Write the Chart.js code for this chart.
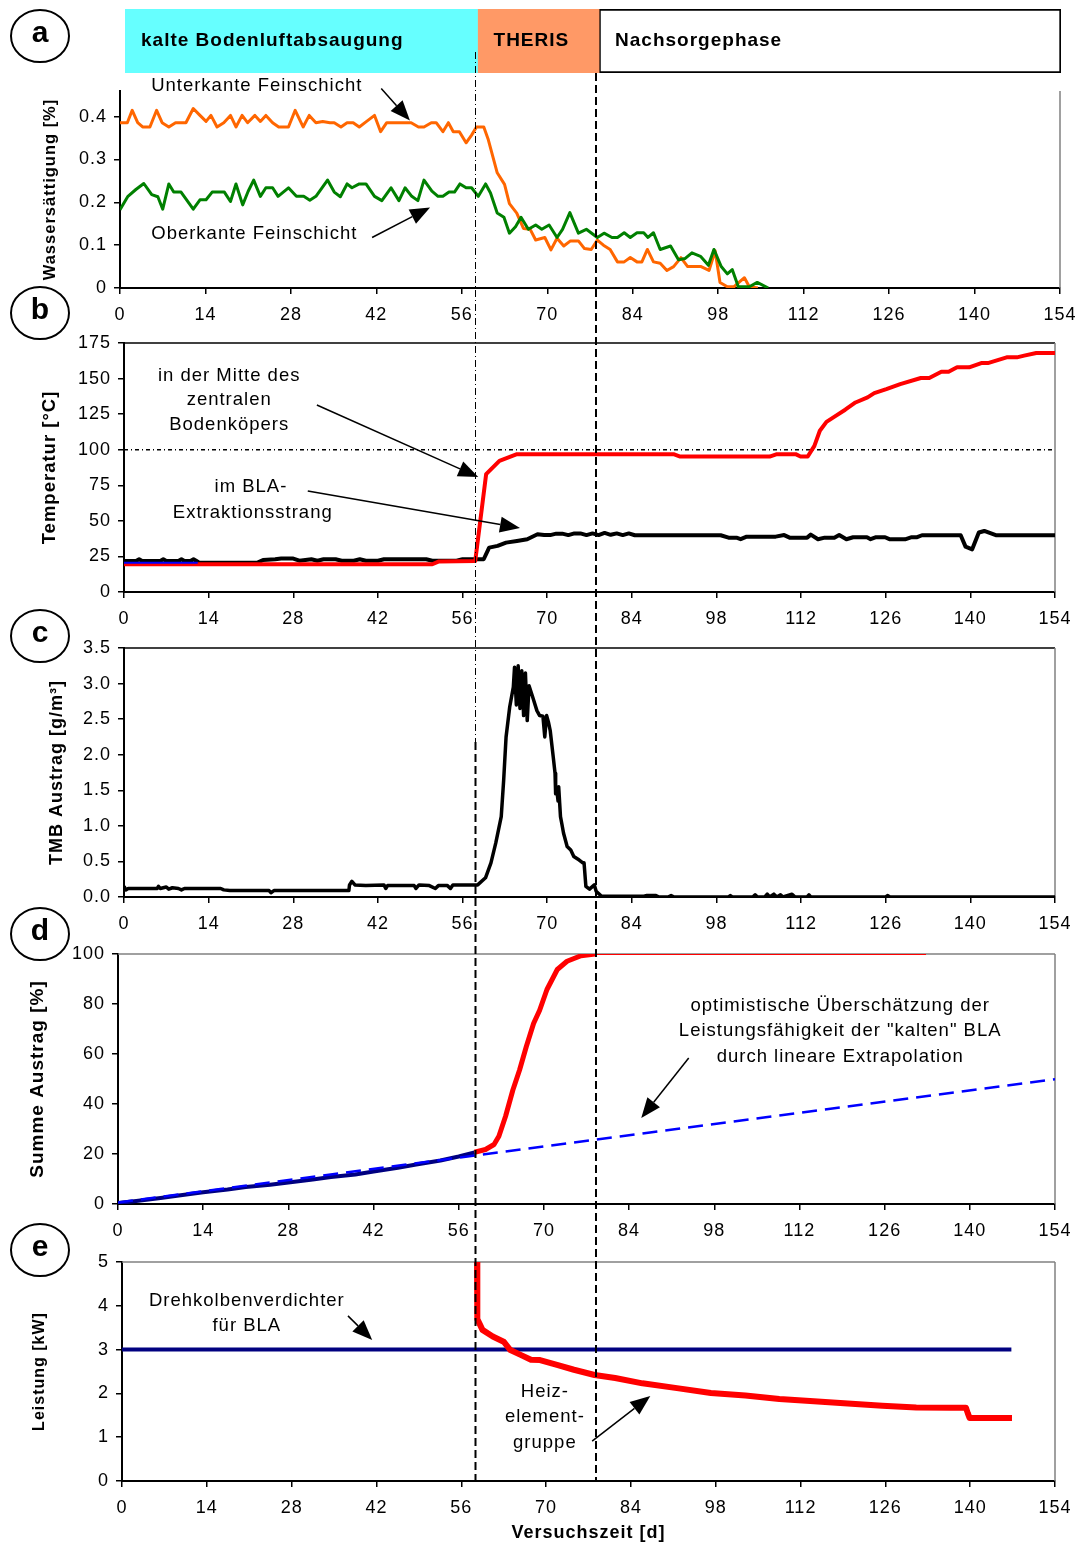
<!DOCTYPE html>
<html>
<head>
<meta charset="utf-8">
<script src="https://cdn.jsdelivr.net/npm/chart.js@4.4.0/dist/chart.umd.min.js"></script>
<style>
  body { margin: 0; background: #fff; }
  #wrap { position: relative; width: 1078px; height: 1546px; overflow: hidden; }
  canvas { position: absolute; left: 0; }
</style>
</head>
<body>
<div id="wrap">
  <canvas id="phasen"></canvas>
  <canvas id="cA"></canvas>
  <canvas id="cB"></canvas>
  <canvas id="cC"></canvas>
  <canvas id="cD"></canvas>
  <canvas id="cE"></canvas>
  <canvas id="overlay" style="top:0;pointer-events:none"></canvas>
</div>
<script>
// Phasen des Versuchs
const phasenNamen = ['kalte Bodenluftabsaugung', 'THERIS', 'Nachsorgephase'];
const phasenBeginn = [0, 58, 78];
const phasenEnde = [58, 78, 154];

// Versuchszeit [d]
const tageMin = 0, tageMax = 154, tageSchritt = 14;

// a) Wassersättigung [%]
const unterkante = [[0,0.386],[1.2,0.386],[2.0,0.415],[2.9,0.386],[3.7,0.376],[4.9,0.376],[6.0,0.415],[6.9,0.386],[8.0,0.376],[9.1,0.386],[10.8,0.386],[12.0,0.419],[13.1,0.403],[14.1,0.389],[14.9,0.403],[15.9,0.376],[17.0,0.386],[18.1,0.403],[19.0,0.376],[20.0,0.403],[20.9,0.386],[22.1,0.403],[23.0,0.389],[23.9,0.403],[25.0,0.386],[26.0,0.376],[27.6,0.376],[28.7,0.415],[30.0,0.376],[31.0,0.403],[32.1,0.386],[33.2,0.389],[34.4,0.386],[35.1,0.386],[36.2,0.376],[37.2,0.386],[38.2,0.386],[39.2,0.376],[40.4,0.389],[41.7,0.403],[42.7,0.365],[43.7,0.386],[44.8,0.386],[46.0,0.386],[47.7,0.386],[48.9,0.376],[49.8,0.376],[51.0,0.386],[51.8,0.386],[52.9,0.365],[53.8,0.386],[54.6,0.365],[55.6,0.365],[56.7,0.339],[57.6,0.357],[58.4,0.376],[59.6,0.376],[60.3,0.348],[61.8,0.269],[63.0,0.242],[63.8,0.197],[65.0,0.175],[66.1,0.139],[67.2,0.137],[68.1,0.112],[69.6,0.118],[70.6,0.089],[71.6,0.116],[72.7,0.098],[73.8,0.110],[75.1,0.110],[76.1,0.092],[77.2,0.090],[78.2,0.112],[79.2,0.100],[80.3,0.090],[81.5,0.061],[82.6,0.061],[83.6,0.071],[84.7,0.061],[85.5,0.061],[86.4,0.090],[87.4,0.061],[88.5,0.058],[89.6,0.041],[90.7,0.050],[91.9,0.071],[93.0,0.050],[94.1,0.050],[95.2,0.050],[96.5,0.041],[97.5,0.087],[98.3,0.013],[99.5,0.003],[100.6,0.003],[102.3,0.024],[103.1,0.003],[104.5,0.0]];
const oberkante = [[0,0.183],[1.3,0.214],[2.6,0.230],[3.9,0.244],[5.2,0.218],[6.2,0.213],[7.0,0.184],[8.0,0.243],[8.8,0.224],[10.0,0.224],[12.0,0.184],[13.1,0.206],[14.1,0.206],[15.1,0.224],[17.1,0.224],[18.1,0.202],[19.0,0.243],[20.1,0.194],[21.0,0.226],[21.9,0.252],[23.0,0.214],[23.9,0.234],[25.0,0.234],[25.9,0.214],[27.6,0.234],[28.9,0.214],[30.1,0.214],[31.1,0.205],[32.1,0.214],[34.0,0.252],[35.1,0.224],[36.1,0.213],[37.2,0.243],[38.0,0.234],[39.2,0.243],[40.3,0.243],[41.7,0.214],[42.9,0.204],[44.4,0.234],[45.7,0.204],[46.7,0.234],[47.8,0.214],[48.8,0.204],[49.8,0.252],[51.1,0.226],[52.1,0.214],[52.9,0.214],[53.9,0.224],[54.8,0.224],[55.7,0.243],[56.7,0.234],[57.6,0.234],[58.7,0.214],[59.9,0.243],[60.7,0.222],[61.8,0.175],[62.9,0.165],[63.8,0.128],[64.8,0.143],[65.7,0.165],[66.9,0.137],[68.1,0.147],[69.1,0.137],[70.3,0.147],[71.6,0.118],[72.5,0.137],[73.7,0.176],[75.1,0.128],[76.4,0.137],[78.2,0.118],[79.3,0.128],[80.6,0.118],[81.5,0.118],[82.6,0.129],[83.6,0.118],[84.7,0.129],[85.8,0.129],[86.5,0.118],[87.4,0.129],[88.5,0.090],[90.2,0.098],[91.5,0.066],[92.6,0.069],[93.7,0.082],[95.1,0.074],[96.4,0.053],[97.3,0.090],[98.5,0.050],[99.5,0.033],[100.3,0.043],[101.3,0.003],[103.1,0.003],[104.4,0.013],[106.2,0.0]];

// b) Temperatur [°C]
const tempMitte = [[0,19.5],[51,19.5],[52.1,21.5],[58.1,21.8],[59.9,82.8],[62.1,92.2],[65,96.9],[90.9,96.9],[92,95.2],[106.8,95.2],[108,96.9],[111.1,96.9],[111.9,95.2],[113.1,95.2],[114.2,102.7],[115.1,113.3],[116.2,119.6],[117.6,123.4],[119.3,128.1],[121,133.2],[123,136.8],[124.1,139.8],[126.1,142.6],[128.4,146.1],[131.8,150.4],[133.2,150.4],[135.2,154.8],[136.4,154.8],[137.8,157.9],[139.8,157.9],[141.8,160.9],[142.9,160.9],[146,164.9],[147.7,164.9],[148.9,166.1],[150.9,168],[154,168]];
const tempBlaStart = [[0,20.5],[12.2,20.5]];
const tempBla = [[0,21.8],[2,21.8],[2.5,23],[3,21.8],[6,21.8],[6.5,23],[7,21.8],[9,21.8],[9.5,23],[10,21.8],[11,21.8],[11.5,23],[12,21.8],[12.5,20.5],[22,20.5],[23,22.5],[25,23],[26,23.5],[28,23.5],[29,22],[31,23],[32,22],[33,23],[35,23],[36,22],[38,22],[39,23],[40,22],[42,22],[43,23],[50,23],[51,22],[55,22],[56,23],[58.7,23],[59.5,23],[60.4,31.2],[61.8,32.4],[63.2,34.7],[65,35.9],[66.7,37.1],[68.4,40.6],[69.5,40],[70.5,40],[71.5,41],[72.5,41],[73.5,40],[74.5,41.2],[75.5,41.2],[76.5,40],[77.5,41.2],[78.5,40],[79.5,41.5],[80.5,40.2],[81.5,41.2],[82.5,40],[83.5,41.2],[84.5,39.9],[98.7,39.9],[100,38.2],[101.3,38.2],[102,37.1],[103,38.9],[107.8,38.9],[109.2,40],[110.1,38.2],[113,38.2],[113.6,40.3],[114.8,37.1],[115.9,38.2],[117.5,38.2],[118.3,40.1],[119.5,37.1],[120.6,38.5],[122.9,38.5],[123.5,37.1],[124.4,38.5],[125.9,38.5],[126.7,37],[129.2,37],[130.3,38.5],[131.2,38.5],[132,39.9],[138.4,39.9],[139.2,31.9],[140.3,30],[141.4,41.8],[142.3,42.9],[144.2,39.9],[154,39.9]];
const siedepunkt = [[0,100],[154,100]];

// c) TMB Austrag [g/m³]
const tmbAustrag = [[0,0.15],[0.3,0.10],[0.7,0.12],[5.5,0.12],[5.7,0.15],[6,0.12],[7,0.14],[7.4,0.11],[8,0.13],[9,0.12],[9.5,0.10],[10,0.12],[16,0.12],[16.5,0.10],[17.5,0.09],[24,0.09],[24.3,0.06],[24.8,0.09],[37.2,0.09],[37.3,0.17],[37.7,0.22],[38.2,0.17],[40,0.16],[43,0.17],[43.3,0.12],[43.6,0.16],[48,0.16],[48.3,0.12],[48.8,0.17],[50.5,0.16],[51.5,0.12],[52,0.16],[53.5,0.16],[54,0.12],[54.4,0.17],[58.5,0.17],[59.8,0.27],[60.7,0.48],[61.5,0.76],[62.4,1.13],[62.8,1.64],[63.2,2.25],[63.8,2.67],[64.4,2.95],[64.6,3.23],[64.9,2.70],[65.2,3.25],[65.5,2.65],[65.8,3.18],[66.1,2.55],[66.4,3.15],[66.7,2.48],[67,2.97],[67.6,2.81],[68.3,2.62],[68.75,2.55],[69.3,2.54],[69.6,2.25],[69.9,2.55],[70.2,2.46],[70.5,2.34],[71,1.97],[71.3,1.74],[71.4,1.45],[71.6,1.50],[71.8,1.35],[71.9,1.55],[72.2,1.13],[72.4,1.04],[72.7,0.90],[73.3,0.71],[73.9,0.66],[74.4,0.57],[75.3,0.52],[75.9,0.48],[76.1,0.48],[76.4,0.15],[77,0.11],[77.8,0.17],[78.1,0.08],[79,0.01],[86,0.01],[86.5,0.02],[88,0.02],[88.5,0.0],[90,0.0],[90.5,0.02],[91,0.0],[100,0.0],[100.3,0.02],[100.6,0.0],[104,0.0],[104.4,0.03],[104.8,0.0],[106,0.0],[106.4,0.04],[106.8,0.0],[107.5,0.04],[108,0.0],[108.6,0.03],[109,0.0],[110.5,0.04],[111,0.0],[113,0.0],[113.3,0.03],[113.6,0.0],[126,0.0],[126.3,0.02],[126.7,0.0],[154,0.0]];

// d) Summe Austrag [%]
const summeGemessen = [[0,0.4],[3,1.2],[7,2.4],[10,3.4],[14,4.7],[18,5.8],[21,6.8],[25,7.7],[28,8.6],[32,9.8],[35,10.8],[39,11.8],[42,13],[46,14.5],[49,15.8],[53,17.4],[56,19],[58.6,20.6]];
const summeThermisch = [[58.6,20.7],[60.4,21.8],[61.8,23.8],[62.6,27.1],[63.7,35.1],[64.9,45.6],[66,53.6],[67.1,62.9],[68.3,72.2],[69.3,77.5],[70.5,85.8],[72.2,93.8],[73.8,97.1],[76.1,99.3],[78.4,100],[132.8,100]];
const summeExtrapoliert = [[0,0.6],[154,49.9]];

// e) Leistung [kW]
const leistungVerdichter = [[0,3],[146.8,3]];
const leistungHeizung = [[58.6,5.0],[58.65,3.7],[59.5,3.45],[61.2,3.30],[63,3.18],[64.1,2.99],[65.8,2.88],[67.5,2.77],[69,2.76],[71.8,2.65],[74.6,2.54],[78,2.42],[81.4,2.35],[85.9,2.23],[91.6,2.12],[97.2,2.01],[102.9,1.95],[108.5,1.87],[114.2,1.82],[119.8,1.77],[125.5,1.72],[131.1,1.68],[136.8,1.67],[139.3,1.67],[139.6,1.55],[139.9,1.44],[146.9,1.44]];

const SCHRIFT = "'Liberation Sans', Arial, Helvetica, sans-serif";
Chart.defaults.font.family = SCHRIFT;
Chart.defaults.color = '#000';
Chart.defaults.animation = false;
Chart.defaults.elements.line.borderJoinStyle = 'round';

const BREITE = 1078;
const pts = arr => arr.map(p => ({x: p[0], y: p[1]}));

function pfeil(ctx, x1, y1, x2, y2) {
    const w = Math.atan2(y2 - y1, x2 - x1);
    const len = 20, half = 8;
    const bx = x2 - len * Math.cos(w), by = y2 - len * Math.sin(w);
    ctx.lineWidth = 1.5;
    ctx.beginPath(); ctx.moveTo(x1, y1); ctx.lineTo(bx, by); ctx.stroke();
    ctx.beginPath();
    ctx.moveTo(x2, y2);
    ctx.lineTo(bx + half * Math.sin(w), by - half * Math.cos(w));
    ctx.lineTo(bx - half * Math.sin(w), by + half * Math.cos(w));
    ctx.closePath(); ctx.fill();
}

// etwas gesperrte Schrift wie im Original
const sperrPlugin = {
    id: 'sperrung',
    beforeDraw(chart) { chart.ctx.letterSpacing = '1px'; },
    afterDraw(chart) { chart.ctx.letterSpacing = '0px'; }
};

// Rahmen oben / rechts wie im Excel-Diagramm
const rahmenPlugin = {
    id: 'rahmen',
    beforeDatasetsDraw(chart, args, opts) {
        const {ctx, chartArea: a} = chart;
        ctx.save();
        ctx.lineWidth = 1.5;
        if (opts.oben) {
            ctx.strokeStyle = opts.oben;
            ctx.beginPath(); ctx.moveTo(a.left, a.top); ctx.lineTo(a.right, a.top); ctx.stroke();
        }
        if (opts.rechts) {
            ctx.strokeStyle = opts.rechts;
            ctx.beginPath(); ctx.moveTo(a.right, a.top); ctx.lineTo(a.right, a.bottom); ctx.stroke();
        }
        ctx.restore();
    }
};

// Beschriftungen und Pfeile (in Achsenwerten)
const notizPlugin = {
    id: 'notizen',
    afterDraw(chart, args, opts) {
        const {ctx, scales: {x, y}} = chart;
        ctx.save();
        ctx.fillStyle = '#000';
        ctx.strokeStyle = '#000';
        ctx.font = '18.5px ' + SCHRIFT;
        ctx.letterSpacing = '1px';
        ctx.textAlign = 'center';
        ctx.textBaseline = 'middle';
        (opts.texte || []).forEach(t => {
            ctx.fillText(t[0], x.getPixelForValue(t[1]), y.getPixelForValue(t[2]));
        });
        (opts.pfeile || []).forEach(p => {
            pfeil(ctx, x.getPixelForValue(p[0]), y.getPixelForValue(p[1]),
                  x.getPixelForValue(p[2]), y.getPixelForValue(p[3]));
        });
        ctx.restore();
    }
};

function panel(geo, datasets, yAchse, extras) {
    const canvas = document.getElementById(geo.id);
    canvas.width = BREITE;
    canvas.height = geo.height;
    canvas.style.top = geo.top + 'px';
    const titelFont = {size: yAchse.titelGroesse, weight: 'bold'};
    const titelHoehe = yAchse.titelGroesse * 1.2;
    return new Chart(canvas, {
        type: 'line',
        data: {datasets: datasets},
        options: {
            responsive: false,
            layout: {padding: {top: geo.plotTop - geo.top, right: BREITE - geo.right, left: 0, bottom: 0}},
            elements: {point: {radius: 0}, line: {tension: 0}},
            plugins: {
                legend: {display: false},
                tooltip: {enabled: false},
                rahmen: extras.rahmen,
                notizen: extras.notizen || {}
            },
            scales: {
                x: {
                    type: 'linear', min: tageMin, max: tageMax,
                    ticks: {stepSize: tageSchritt, padding: 10, font: {size: 18}, maxRotation: 0, autoSkip: false},
                    grid: {drawOnChartArea: false, color: '#000', lineWidth: 1.5, tickLength: 6},
                    border: {color: '#000', width: 2},
                    title: extras.xTitel ? {display: true, text: extras.xTitel, font: {size: 18, weight: 'bold'}, padding: {top: 0, bottom: 2}} : {display: false},
                    afterFit: s => {
                        s.height = geo.top + geo.height - geo.plotBottom;
                        s.paddingLeft = 0; s.paddingRight = 0;
                    }
                },
                y: {
                    min: yAchse.min, max: yAchse.max,
                    ticks: {stepSize: yAchse.schritt, padding: 7, font: {size: 18}, includeBounds: false,
                            callback: yAchse.format || (v => v)},
                    grid: {drawOnChartArea: false, color: '#000', lineWidth: 1.5, tickLength: 6},
                    border: {color: '#000', width: 2},
                    title: {display: true, text: yAchse.titel, font: titelFont,
                            padding: {top: yAchse.titelX - titelHoehe / 2, bottom: 0}},
                    afterFit: s => {
                        s.width = geo.left;
                        s.paddingTop = 0; s.paddingBottom = 0;
                    }
                }
            }
        },
        plugins: [sperrPlugin, rahmenPlugin, notizPlugin]
    });
}

// Phasenbalken oben
const phasenCanvas = document.getElementById('phasen');
phasenCanvas.width = BREITE;
phasenCanvas.height = 80;
phasenCanvas.style.top = '0px';
const phasenFarben = ['#66ffff', '#ff9966', '#ffffff'];
new Chart(phasenCanvas, {
    type: 'bar',
    data: {
        labels: [''],
        datasets: phasenNamen.map((n, i) => ({
            label: n,
            data: [[phasenBeginn[i], phasenEnde[i]]],
            backgroundColor: phasenFarben[i],
            borderColor: '#000',
            borderWidth: i === 2 ? 2 : 0,
            borderSkipped: false,
            grouped: false,
            barPercentage: 1,
            categoryPercentage: 1
        }))
    },
    options: {
        indexAxis: 'y',
        responsive: false,
        layout: {padding: {left: 125, right: BREITE - 1061, top: 9, bottom: 7}},
        scales: {x: {display: false, min: tageMin, max: tageMax}, y: {display: false}},
        plugins: {legend: {display: false}, tooltip: {enabled: false}}
    },
    plugins: [{
        id: 'phasenText',
        afterDraw(chart) {
            const ctx = chart.ctx;
            ctx.save();
            ctx.font = 'bold 19px ' + SCHRIFT;
            ctx.letterSpacing = '1px';
            ctx.fillStyle = '#000';
            ctx.textBaseline = 'middle';
            chart.data.datasets.forEach((ds, i) => {
                const bar = chart.getDatasetMeta(i).data[0];
                ctx.fillText(ds.label, Math.min(bar.x, bar.base) + 16, bar.y);
            });
            ctx.restore();
        }
    }]
});

const geoA = {id: 'cA', top: 75, height: 255, left: 120, right: 1060, plotTop: 91, plotBottom: 288};
const geoB = {id: 'cB', top: 330, height: 310, left: 124, right: 1055, plotTop: 343, plotBottom: 592};
const geoC = {id: 'cC', top: 635, height: 310, left: 124, right: 1055, plotTop: 648, plotBottom: 897};
const geoD = {id: 'cD', top: 942, height: 303, left: 118, right: 1055, plotTop: 954, plotBottom: 1204};
const geoE = {id: 'cE', top: 1245, height: 301, left: 122, right: 1055, plotTop: 1262, plotBottom: 1481};

panel(geoA, [
    {data: pts(oberkante), borderColor: '#008000', borderWidth: 3},
    {data: pts(unterkante), borderColor: '#ff6600', borderWidth: 3}
], {min: 0, max: 0.46, schritt: 0.1, titel: 'Wassersättigung [%]', titelGroesse: 16.5, titelX: 50}, {
    rahmen: {rechts: '#808080'},
    notizen: {
        texte: [['Unterkante Feinschicht', 22.4, 0.472], ['Oberkante Feinschicht', 22.0, 0.127]],
        pfeile: [[42.8, 0.466, 47.5, 0.391], [41.3, 0.118, 50.8, 0.188]]
    }
});

const diagrammB = panel(geoB, [
    {data: pts(tempBlaStart), borderColor: '#0000ff', borderWidth: 2},
    {data: pts(tempMitte), borderColor: '#ff0000', borderWidth: 4},
    {data: pts(tempBla), borderColor: '#000000', borderWidth: 4},
    {data: pts(siedepunkt), borderColor: '#000000', borderWidth: 1.5, borderDash: [4, 3, 1, 3]}
], {min: 0, max: 175, schritt: 25, titel: 'Temperatur [°C]', titelGroesse: 18.5, titelX: 50}, {
    rahmen: {oben: '#000000', rechts: '#808080'},
    notizen: {
        texte: [['in der Mitte des', 17.4, 151.8], ['zentralen', 17.4, 134.9], ['Bodenköpers', 17.4, 117.4],
                ['im BLA-', 21.0, 73.8], ['Extraktionsstrang', 21.3, 55.5]],
        pfeile: [[31.9, 131.4, 58.6, 80.8], [30.4, 71.0, 65.5, 45.0]]
    }
});

panel(geoC, [
    {data: pts(tmbAustrag), borderColor: '#000000', borderWidth: 3.5}
], {min: 0, max: 3.5, schritt: 0.5, titel: 'TMB Austrag [g/m³]', titelGroesse: 18, titelX: 57,
    format: v => v.toFixed(1)}, {
    rahmen: {oben: '#000000', rechts: '#808080'}
});

panel(geoD, [
    {data: pts(summeThermisch), borderColor: '#ff0000', borderWidth: 5, clip: 0,
     segment: {borderWidth: s => (s.p0.parsed.y >= 100 ? 2 : 5)}},
    {data: pts(summeExtrapoliert), borderColor: '#0000ff', borderWidth: 2.5, borderDash: [15, 8]},
    {data: pts(summeGemessen), borderColor: '#000080', borderWidth: 4}
], {min: 0, max: 100, schritt: 20, titel: 'Summe Austrag [%]', titelGroesse: 19, titelX: 38}, {
    rahmen: {oben: '#808080', rechts: '#808080'},
    notizen: {
        texte: [['optimistische Überschätzung der', 118.7, 79.2],
                ['Leistungsfähigkeit der "kalten" BLA', 118.7, 69.2],
                ['durch lineare Extrapolation', 118.7, 58.8]],
        pfeile: [[93.8, 58.4, 86.0, 34.4]]
    }
});

panel(geoE, [
    {data: pts(leistungHeizung), borderColor: '#ff0000', borderWidth: 6, clip: 0},
    {data: pts(leistungVerdichter), borderColor: '#000080', borderWidth: 4}
], {min: 0, max: 5, schritt: 1, titel: 'Leistung [kW]', titelGroesse: 16, titelX: 40}, {
    rahmen: {oben: '#808080', rechts: '#808080'},
    xTitel: 'Versuchszeit [d]',
    notizen: {
        texte: [['Drehkolbenverdichter', 20.6, 4.11], ['für BLA', 20.6, 3.54],
                ['Heiz-', 69.8, 2.03], ['element-', 69.8, 1.46], ['gruppe', 69.8, 0.87]],
        pfeile: [[37.3, 3.77, 41.3, 3.22], [77.6, 0.91, 87.2, 1.94]]
    }
});

// Phasengrenzen über alle Teilbilder und Kennbuchstaben
function zeichneOverlay() {
    const c = document.getElementById('overlay');
    c.width = BREITE;
    c.height = 1546;
    const ctx = c.getContext('2d');
    const xs = diagrammB.scales.x;
    const x1 = Math.round(xs.getPixelForValue(phasenEnde[0])) + 0.5;
    const x2 = Math.round(xs.getPixelForValue(phasenEnde[1]));
    const unten = geoE.plotBottom;
    const strich = (x, ya, yb) => { ctx.beginPath(); ctx.moveTo(x, ya); ctx.lineTo(x, yb); ctx.stroke(); };
    ctx.strokeStyle = '#000';
    ctx.lineWidth = 1;
    ctx.setLineDash([7, 3, 1, 3]);
    strich(x1, 52, 742);
    ctx.lineWidth = 2;
    ctx.setLineDash([8, 4]);
    strich(x1, 742, unten);
    strich(x2, 73, unten);
    ctx.setLineDash([]);

    const buchstaben = [['a', 36], ['b', 313], ['c', 636], ['d', 934], ['e', 1250]];
    ctx.lineWidth = 2;
    ctx.font = 'bold 30px ' + SCHRIFT;
    ctx.textAlign = 'center';
    ctx.textBaseline = 'middle';
    buchstaben.forEach(([b, y]) => {
        ctx.fillStyle = '#fff';
        ctx.beginPath();
        ctx.ellipse(40, y, 29, 26, 0, 0, Math.PI * 2);
        ctx.fill();
        ctx.stroke();
        ctx.fillStyle = '#000';
        ctx.fillText(b, 40, y - 2);
    });
}
zeichneOverlay();
</script>
</body>
</html>
